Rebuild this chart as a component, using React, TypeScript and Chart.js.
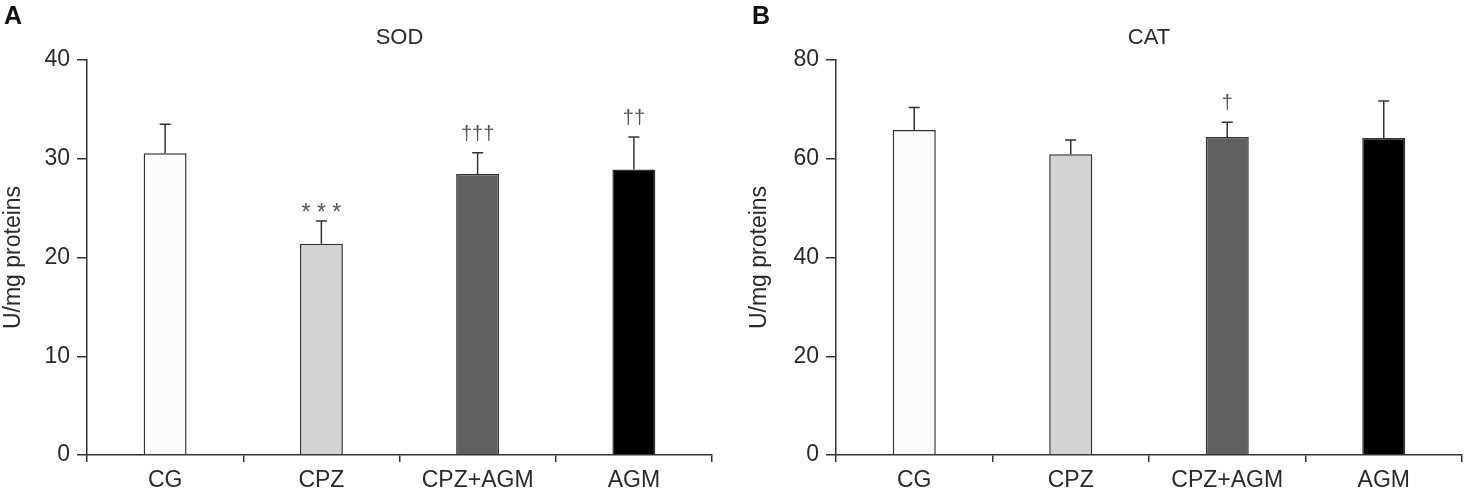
import React, { useEffect, useRef } from "react";
import { Chart, registerables } from "chart.js";

Chart.register(...registerables);

const categories = ["CG", "CPZ", "CPZ+AGM", "AGM"];
const sodMeans = [30.55, 21.4, 28.45, 28.9];
const sodErrors = [2.95, 2.3, 2.15, 3.3];
const sodMarks = ["", "***", "†††", "††"];
const catMeans = [65.8, 60.9, 64.4, 64.2];
const catErrors = [4.6, 2.9, 3.0, 7.5];
const catMarks = ["", "", "†", ""];
const barColors = ["#fcfcfc", "#d3d3d3", "#606060", "#000000"];
const sodAxis = { max: 40, step: 10 };
const catAxis = { max: 80, step: 20 };

const FONT = "'Liberation Sans', Arial, sans-serif";
const INK = "#2a2a2a";
const FS = 23;

type PanelProps = {
  left: number;
  letter: string;
  letterX: number;
  title: string;
  means: number[];
  errors: number[];
  marks: string[];
  axis: { max: number; step: number };
  yWidth: number;
  rightPad: number;
  titlePad: number;
};

function Panel(p: PanelProps) {
  const ref = useRef<HTMLCanvasElement>(null);
  useEffect(() => {
    const canvas = ref.current!;
    const overlay = {
      id: "overlay",
      afterDatasetsDraw(chart: any) {
        const ctx = chart.ctx;
        const y = chart.scales.y;
        const meta = chart.getDatasetMeta(0);
        ctx.save();
        ctx.strokeStyle = "#333";
        ctx.lineWidth = 1.5;
        p.means.forEach((m, i) => {
          const x = meta.data[i].x;
          const yb = y.getPixelForValue(m);
          const yt = y.getPixelForValue(m + p.errors[i]);
          ctx.beginPath();
          ctx.moveTo(x, yb);
          ctx.lineTo(x, yt);
          ctx.moveTo(x - 5.5, yt);
          ctx.lineTo(x + 5.5, yt);
          ctx.stroke();
          const mk = p.marks[i];
          if (mk) {
            ctx.fillStyle = "#555";
            ctx.textAlign = "center";
            ctx.textBaseline = "alphabetic";
            if (mk.includes("*")) {
              ctx.font = `${FS}px ${FONT}`;
              ctx.fillText(mk.split("").join(" "), x, yt - 1);
            } else {
              ctx.font = `20px ${FONT}`;
              ctx.fillText(mk, x, yt - 13);
            }
          }
        });
        ctx.restore();
      },
      afterDraw(chart: any) {
        const ctx = chart.ctx;
        const a = chart.chartArea;
        ctx.save();
        ctx.fillStyle = INK;
        ctx.textAlign = "center";
        ctx.textBaseline = "middle";
        ctx.font = `22px ${FONT}`;
        ctx.fillText(p.title, (a.left + a.right) / 2, 38);
        ctx.fillStyle = "#111";
        ctx.textAlign = "left";
        ctx.textBaseline = "alphabetic";
        ctx.font = `bold 25px ${FONT}`;
        ctx.fillText(p.letter, p.letterX, 24);
        ctx.restore();
      },
    };
    const chart = new Chart(canvas, {
      type: "bar",
      data: {
        labels: categories,
        datasets: [
          {
            data: p.means,
            backgroundColor: barColors,
            borderColor: "#333",
            borderWidth: 1.5,
            barPercentage: 0.55,
            categoryPercentage: 0.5,
          },
        ],
      },
      options: {
        responsive: false,
        animation: false,
        layout: { padding: { top: 60, right: p.rightPad, bottom: 0, left: 0 } },
        plugins: { legend: { display: false }, tooltip: { enabled: false } },
        scales: {
          x: {
            grid: {
              display: true,
              offset: true,
              drawOnChartArea: false,
              drawTicks: true,
              tickLength: 7,
              color: "#333",
              lineWidth: 1.5,
            },
            border: { display: true, color: "#333", width: 1.5 },
            ticks: { color: INK, font: { family: FONT, size: FS }, padding: 5, maxRotation: 0 },
            afterFit: (s: any) => {
              s.height = 40;
            },
          },
          y: {
            min: 0,
            max: p.axis.max,
            ticks: {
              stepSize: p.axis.step,
              color: INK,
              font: { family: FONT, size: FS },
              padding: 7,
            },
            grid: {
              display: true,
              drawOnChartArea: false,
              drawTicks: true,
              tickLength: 10,
              color: "#333",
              lineWidth: 1.5,
            },
            border: { display: true, color: "#333", width: 1.5 },
            title: {
              display: true,
              text: "U/mg proteins",
              color: INK,
              font: { family: FONT, size: FS },
              padding: { top: p.titlePad, bottom: 0 },
            },
            afterFit: (s: any) => {
              s.width = p.yWidth;
            },
          },
        },
      } as any,
      plugins: [overlay],
    });
    return () => chart.destroy();
  }, []);
  return (
    <canvas
      ref={ref}
      width={732}
      height={495}
      style={{ position: "absolute", left: p.left, top: 0, width: 732, height: 495 }}
    />
  );
}

export default function App() {
  return (
    <div
      style={{
        position: "absolute",
        left: 0,
        top: 0,
        width: 1464,
        height: 495,
        background: "#fff",
        overflow: "hidden",
      }}
    >
      <Panel
        left={0}
        letter="A"
        letterX={4}
        title="SOD"
        means={sodMeans}
        errors={sodErrors}
        marks={sodMarks}
        axis={sodAxis}
        yWidth={87}
        rightPad={20}
        titlePad={0}
      />
      <Panel
        left={732}
        letter="B"
        letterX={20}
        title="CAT"
        means={catMeans}
        errors={catErrors}
        marks={catMarks}
        axis={catAxis}
        yWidth={104}
        rightPad={2}
        titlePad={14}
      />
    </div>
  );
}
